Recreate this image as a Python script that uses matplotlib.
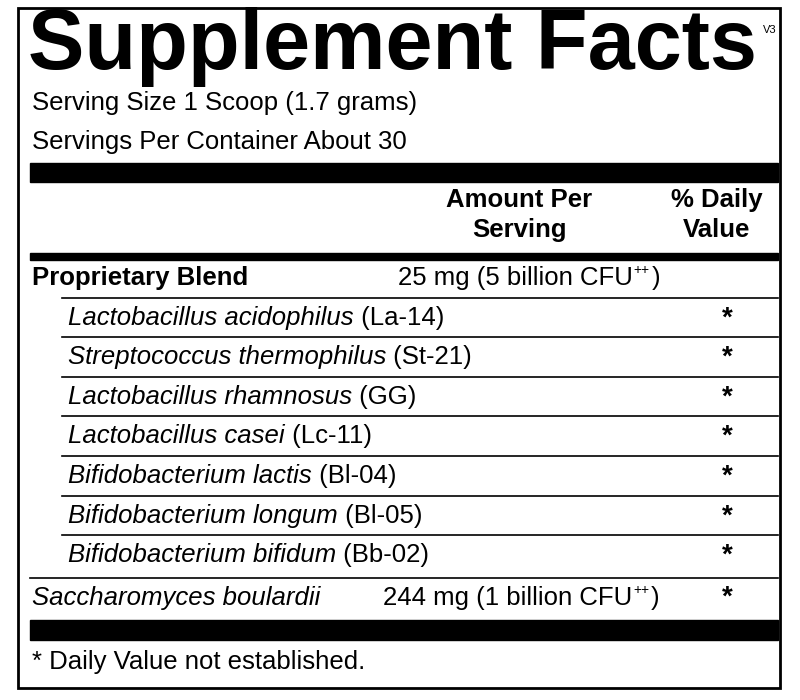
import matplotlib
matplotlib.use("Agg")
import matplotlib.pyplot as plt

title = "Supplement Facts"
version = "V3"
serving_lines = ["Serving Size 1 Scoop (1.7 grams)", "Servings Per Container About 30"]
blend_name = "Proprietary Blend"
blend_amount = "25 mg (5 billion CFU"
strains_italic = ["Lactobacillus acidophilus", "Streptococcus thermophilus", "Lactobacillus rhamnosus",
                  "Lactobacillus casei", "Bifidobacterium lactis", "Bifidobacterium longum",
                  "Bifidobacterium bifidum"]
strains_code = [" (La-14)", " (St-21)", " (GG)", " (Lc-11)", " (Bl-04)", " (Bl-05)", " (Bb-02)"]
sacch_name = "Saccharomyces boulardii"
sacch_amount = "244 mg (1 billion CFU"
footnote = "* Daily Value not established."

FS = 18.5
plt.rcParams['font.family'] = ['Liberation Sans', 'DejaVu Sans']
fig = plt.figure(figsize=(8, 7), dpi=100)
ax = fig.add_axes([0, 0, 1, 1])
ax.set_xlim(0, 800); ax.set_ylim(700, 0); ax.axis('off')
fig.canvas.draw()
r = fig.canvas.get_renderer()

def T(x, y, s, size=FS, **kw):
    return ax.text(x, y, s, fontsize=size, va='center', **kw)

def width_px(t):
    return t.get_window_extent(renderer=r).width

def piece(x, y, parts, size=FS):
    for s, kw in parts:
        t = T(x, y, s, size, **kw)
        x += width_px(t)
    return x

def sup(x, y):
    T(x + 1, y - 8, "++", 10)

ax.add_patch(plt.Rectangle((18, 8), 762, 680, fill=False, lw=2, color='black'))
T(28, 47, title, 61, fontweight='bold')
T(763, 30, version, 8)
T(32, 103, serving_lines[0])
T(32, 142, serving_lines[1])
ax.add_patch(plt.Rectangle((30, 163), 748, 19, color='black'))
T(519, 200, "Amount Per", fontweight='bold', ha='center')
T(519, 230, "Serving", fontweight='bold', ha='center')
T(717, 200, "% Daily", fontweight='bold', ha='center')
T(717, 230, "Value", fontweight='bold', ha='center')
ax.add_patch(plt.Rectangle((30, 253), 748, 7, color='black'))

T(32, 278, blend_name, fontweight='bold')
xe = piece(398, 278, [(blend_amount, {})])
sup(xe, 278)
T(xe + 19, 278, ")")

row_y = [318, 357, 397, 436, 476, 516, 555]
for i, (it, code) in enumerate(zip(strains_italic, strains_code)):
    y = row_y[i]
    ax.plot([62, 778], [y - 20, y - 20], color='black', lw=1.2)
    piece(68, y, [(it, {'style': 'italic'}), (code, {})])
    T(727, y + 1, "*", 20, ha='center', fontweight='bold')
ax.plot([30, 778], [578, 578], color='black', lw=1.2)
T(32, 598, sacch_name, style='italic')
xe = piece(383, 598, [(sacch_amount, {})])
sup(xe, 598)
T(xe + 19, 598, ")")
T(727, 598, "*", 20, ha='center', fontweight='bold')
ax.add_patch(plt.Rectangle((30, 620), 748, 20, color='black'))
T(32, 662, footnote)

fig.savefig("out.png", dpi=100)
